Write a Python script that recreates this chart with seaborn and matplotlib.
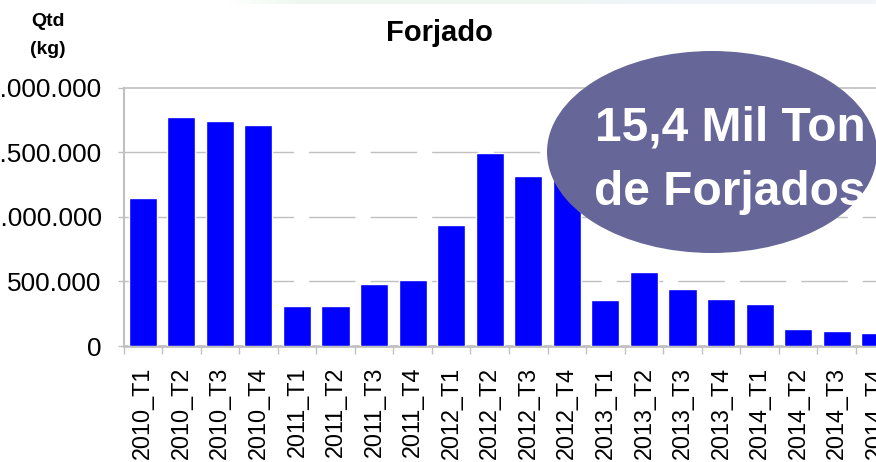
import numpy as np
import pandas as pd
import matplotlib
matplotlib.use("Agg")
import matplotlib.pyplot as plt
from matplotlib.patches import Ellipse
from matplotlib.colors import LinearSegmentedColormap
from matplotlib.ticker import FuncFormatter, FixedLocator, NullFormatter
import seaborn as sns

# Quarterly forged output (kg)
quarters = [
    "2010_T1", "2010_T2", "2010_T3", "2010_T4",
    "2011_T1", "2011_T2", "2011_T3", "2011_T4",
    "2012_T1", "2012_T2", "2012_T3", "2012_T4",
    "2013_T1", "2013_T2", "2013_T3", "2013_T4",
    "2014_T1", "2014_T2", "2014_T3", "2014_T4",
]
qtd_kg = [
    1147000, 1775000, 1744000, 1713000,
    310000, 310000, 480000, 512000,
    938000, 1496000, 1318000, 1287000,
    357000, 574000, 442000, 364000,
    328000, 132000, 116000, 101000,
]
y_ticks = [0, 500000, 1000000, 1500000, 2000000]

title_text = "Forjado"
unit_label = ["Qtd", "(kg)"]
callout_lines = ["15,4 Mil Ton", "de Forjados"]

df = pd.DataFrame({"trimestre": quarters, "qtd": qtd_kg})

sns.set_theme(style="white")
plt.rcParams["font.family"] = ["Liberation Sans", "DejaVu Sans"]

W, H = 876, 462
fig = plt.figure(figsize=(W / 100, H / 100), dpi=100)
fig.patch.set_facecolor("white")

# plot area (extends past the right edge of the canvas)
left, right, top, bottom = 123.5, 894.5, 87.5, 346.0
ax = fig.add_axes([left / W, 1 - bottom / H, (right - left) / W, (bottom - top) / H])

sns.barplot(data=df, x="trimestre", y="qtd", color="#0000ff", saturation=1,
            width=0.73, ax=ax, zorder=3)

ax.set_xlim(-0.5, len(quarters) - 0.5)
ax.set_ylim(0, 2000000)
ax.set_xlabel("")
ax.set_ylabel("")

grid_color = "#c0c0c0"
for v in y_ticks[1:-1]:
    ax.axhline(v, color=grid_color, lw=1.0, linestyle=(0, (33.5, 10.8)), zorder=1)

ax.set_yticks(y_ticks)
ax.yaxis.set_major_formatter(FuncFormatter(lambda v, p: f"{int(v):,}".replace(",", ".")))
ax.tick_params(axis="y", which="major", direction="out", length=4.3, width=1,
               color=grid_color, labelsize=18.8, pad=11.5, labelcolor="black", left=True)

# category ticks between bars, labels centred under each bar
ax.set_xticks(range(len(quarters)))
ax.set_xticklabels(quarters, rotation=90, ha="center", va="top")
ax.xaxis.set_minor_locator(FixedLocator(np.arange(-0.5, len(quarters), 1.0)))
ax.xaxis.set_minor_formatter(NullFormatter())
ax.tick_params(axis="x", which="major", length=0, labelsize=16.8, pad=15,
               labelcolor="black", bottom=True)
ax.tick_params(axis="x", which="minor", direction="out", length=5.8, width=1,
               color=grid_color, bottom=True)

for side in ["left", "bottom", "top"]:
    ax.spines[side].set_visible(True)
    ax.spines[side].set_color(grid_color)
ax.spines["left"].set_linewidth(1.5)
ax.spines["bottom"].set_linewidth(2.0)
ax.spines["top"].set_linewidth(1.2)
ax.spines["right"].set_visible(False)

# titles
fig.text(439 / W, 1 - 33 / H, title_text, ha="center", va="center",
         fontsize=21, fontweight="bold", color="black")
fig.text(48 / W, 1 - 21.5 / H, unit_label[0], ha="center", va="center",
         fontsize=14, fontweight="bold", color="black")
fig.text(48 / W, 1 - 50 / H, unit_label[1], ha="center", va="center",
         fontsize=14, fontweight="bold", color="black")

# callout
ell = Ellipse((712 / W, 1 - 152 / H), 330 / W, 202 / H, transform=fig.transFigure,
              facecolor="#666699", edgecolor="none", zorder=5)
fig.add_artist(ell)
for line, baseline in zip(callout_lines, [141, 205]):
    fig.text(730 / W, 1 - baseline / H, line, ha="center", va="baseline",
             fontsize=34.5, fontweight="bold", color="white", zorder=6)

# faint band along the top edge
band_ax = fig.add_axes([0, 1 - 4 / H, 1, 4 / H])
band_cmap = LinearSegmentedColormap.from_list(
    "band", [(0.0, "#ffffff"), (0.26, "#ffffff"), (0.34, "#eef8f0"),
             (0.62, "#eef8f2"), (0.75, "#eff5fa"), (1.0, "#f2f6fb")])
band_ax.imshow(np.linspace(0, 1, 256)[None, :], aspect="auto", cmap=band_cmap,
               extent=(0, 1, 0, 1))
band_ax.set_axis_off()

fig.savefig("out.png", dpi=100, facecolor="white")
